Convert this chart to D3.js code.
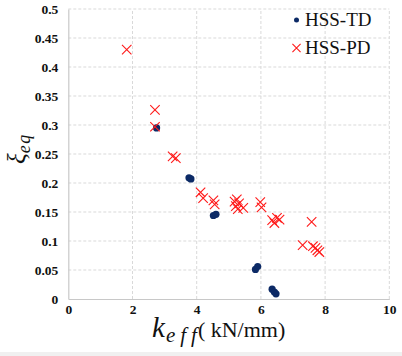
<!DOCTYPE html>
<html><head><meta charset="utf-8">
<script src="https://cdn.jsdelivr.net/npm/d3@7"></script>
<style>body{margin:0;background:#fff}svg{display:block}</style>
</head><body>
<svg id="c" width="402" height="356"></svg>
<script>
const xTicks = [0, 2, 4, 6, 8, 10];
const yTicks = [0, 0.05, 0.1, 0.15, 0.2, 0.25, 0.3, 0.35, 0.4, 0.45, 0.5];
const seriesNames = ["HSS-TD", "HSS-PD"];
const tdK  = [2.75, 3.76, 3.82, 4.52, 4.6, 5.83, 5.9, 6.35, 6.42, 6.47];
const tdXi = [0.295, 0.209, 0.207, 0.144, 0.146, 0.051, 0.056, 0.017, 0.012, 0.009];
const pdK  = [1.82, 2.7, 2.7, 3.25, 3.35, 4.12, 4.2, 4.52, 4.56, 5.18, 5.22, 5.25, 5.28, 5.32, 5.45, 5.98, 6.02, 6.35, 6.42, 6.5, 6.58, 7.58, 7.3, 7.62, 7.7, 7.76, 7.82];
const pdXi = [0.43, 0.326, 0.297, 0.246, 0.243, 0.184, 0.174, 0.17, 0.163, 0.168, 0.16, 0.172, 0.155, 0.165, 0.157, 0.167, 0.158, 0.136, 0.131, 0.14, 0.137, 0.133, 0.093, 0.091, 0.088, 0.084, 0.081];

const svg = d3.select("#c");
const x = d3.scaleLinear().domain([0, 10]).range([68.3, 389.3]);
const y = d3.scaleLinear().domain([0, 0.5]).range([299, 9]);
const serif = "'Liberation Serif', 'Times New Roman', serif";

svg.append("rect").attr("x", 0).attr("y", 352).attr("width", 402).attr("height", 4).attr("fill", "#f0f0f0");

// gridlines
svg.append("g").selectAll("line").data(yTicks.filter(d => d > 0)).join("line")
  .attr("x1", x(0)).attr("x2", x(10)).attr("y1", d => y(d)).attr("y2", d => y(d))
  .attr("stroke", "#d9d9d9").attr("stroke-dasharray", "3,2").attr("stroke-width", 1);
svg.append("g").selectAll("line").data(xTicks.filter(d => d > 0)).join("line")
  .attr("y1", y(0)).attr("y2", y(0.5)).attr("x1", d => x(d)).attr("x2", d => x(d))
  .attr("stroke", "#d9d9d9").attr("stroke-dasharray", "3,2").attr("stroke-width", 1);

// axes
const xAxis = svg.append("g").attr("transform", `translate(0,${y(0)})`)
  .call(d3.axisBottom(x).tickValues(xTicks).tickSize(0).tickPadding(5).tickFormat(d3.format("d")));
const yAxis = svg.append("g").attr("transform", `translate(${x(0)},0)`)
  .call(d3.axisLeft(y).tickValues(yTicks).tickSize(0).tickPadding(10).tickFormat(d => String(d)));
[xAxis, yAxis].forEach(a => {
  a.attr("font-family", null);
  a.select(".domain").attr("stroke", "#c8c8c8").attr("stroke-width", 1.2);
  a.selectAll("text").style("font-family", serif).style("font-weight", "bold")
    .style("font-size", "13.5px").attr("fill", "#111");
});

// data
const td = tdK.map((k, i) => ({k, v: tdXi[i]}));
const pd = pdK.map((k, i) => ({k, v: pdXi[i]}));
svg.append("g").selectAll("circle").data(td).join("circle")
  .attr("cx", d => x(d.k)).attr("cy", d => y(d.v)).attr("r", 3.6).attr("fill", "#0c2a66");
const cross = d3.symbol().type(d3.symbolX).size(60);
svg.append("g").selectAll("path").data(pd).join("path")
  .attr("d", cross).attr("transform", d => `translate(${x(d.k)},${y(d.v)})`)
  .attr("fill", "none").attr("stroke", "#ff1a1a").attr("stroke-width", 1.1);

// legend
const lg = svg.append("g");
lg.append("circle").attr("cx", 296.5).attr("cy", 20).attr("r", 2.5).attr("fill", "#0c2a66");
lg.append("path").attr("d", d3.symbol().type(d3.symbolX).size(45)).attr("transform", "translate(296.5,48)")
  .attr("fill", "none").attr("stroke", "#ff1a1a").attr("stroke-width", 1.1);
lg.selectAll("text").data(seriesNames).join("text")
  .attr("x", 305).attr("y", (d, i) => 26 + i * 28)
  .style("font-family", serif).style("font-size", "19px").attr("fill", "#111").text(d => d);

// axis titles
const xt = svg.append("text").attr("x", 152).attr("y", 337).style("font-family", serif).attr("fill", "#111");
xt.append("tspan").style("font-style", "italic").style("font-size", "29px").text("k");
xt.append("tspan").style("font-style", "italic").style("font-size", "21px").style("letter-spacing", "5px").attr("dx", 1).attr("dy", 5).text("eff");
xt.append("tspan").style("font-size", "22px").style("letter-spacing", "0px").attr("dx", -4).attr("dy", -5).text("( kN/mm)");

const yt = svg.append("text").attr("transform", "translate(25,164) rotate(-90)").style("font-family", serif).attr("fill", "#111");
yt.append("tspan").style("font-style", "italic").style("font-size", "25px").text("ξ");
yt.append("tspan").style("font-style", "italic").style("font-size", "18px").style("letter-spacing", "1.5px").attr("dy", 5).text("eq");
</script>
</body></html>
